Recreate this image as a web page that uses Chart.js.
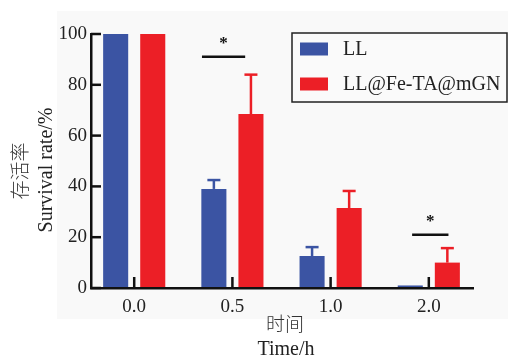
<!DOCTYPE html>
<html>
<head>
<meta charset="utf-8">
<script src="https://cdn.jsdelivr.net/npm/chart.js@4.4.1/dist/chart.umd.min.js"></script>
<style>
  body { margin: 0; background: #fff; }
</style>
</head>
<body>
<canvas id="grafico" width="508" height="357"></canvas>
<script>
// valores
const tempos = ['0.0', '0.5', '1.0', '2.0'];
const nomes = ['LL', 'LL@Fe-TA@mGN'];
const llMedia = [100, 39, 12.6, 1];
const llDesvio = [0, 3.5, 3.5, 0];
const mgnMedia = [100, 68.5, 31.5, 10];
const mgnDesvio = [0, 15.5, 6.7, 5.7];
const yTicks = [0, 20, 40, 60, 80, 100];

// marcas de significancia (indice da categoria, altura em %, extensao em unidades de x)
const sigIndice = [1, 3];
const sigAltura = [91, 21];
const sigDe = [-0.31, -0.17];
const sigAte = [0.13, 0.2];
const sigTexto = ['*', '*'];

const azul = '#3b54a3';
const vermelho = '#ec1f26';
const serif = "'Liberation Serif', 'Times New Roman', 'Noto Sans CJK SC', serif";
const cjk = "300 19px 'Noto Sans CJK SC', sans-serif";

function linha(ctx, x1, y1, x2, y2) {
    ctx.beginPath();
    ctx.moveTo(x1, y1);
    ctx.lineTo(x2, y2);
    ctx.stroke();
}

const fundo = {
    id: 'fundo',
    beforeDraw(chart) {
        const ctx = chart.ctx;
        ctx.save();
        ctx.fillStyle = '#f9f9f9';
        ctx.fillRect(57, 11, chart.width - 57, 308);
        ctx.restore();
    }
};

const barrasErro = {
    id: 'barrasErro',
    afterDatasetsDraw(chart) {
        const ctx = chart.ctx;
        const y = chart.scales.y;
        ctx.save();
        chart.data.datasets.forEach((ds, i) => {
            const meta = chart.getDatasetMeta(i);
            ctx.strokeStyle = ds.backgroundColor;
            ctx.lineWidth = 2.5;
            meta.data.forEach((bar, j) => {
                const sd = ds.desvio[j];
                if (!sd) return;
                const topo = y.getPixelForValue(ds.data[j].y + sd);
                linha(ctx, bar.x, bar.y, bar.x, topo);
                linha(ctx, bar.x - 6.5, topo, bar.x + 6.5, topo);
            });
        });
        ctx.restore();
    }
};

const significancia = {
    id: 'significancia',
    afterDatasetsDraw(chart) {
        const {ctx, scales: {x, y}} = chart;
        ctx.save();
        ctx.strokeStyle = '#111';
        ctx.fillStyle = '#111';
        ctx.lineWidth = 2.5;
        ctx.font = 'bold 17px ' + serif;
        ctx.textAlign = 'center';
        ctx.textBaseline = 'middle';
        sigIndice.forEach((idx, k) => {
            const x1 = x.getPixelForValue(idx + sigDe[k]);
            const x2 = x.getPixelForValue(idx + sigAte[k]);
            const py = y.getPixelForValue(sigAltura[k]);
            linha(ctx, x1, py, x2, py);
            ctx.fillText(sigTexto[k], (x1 + x2) / 2, py - 13);
        });
        ctx.restore();
    }
};

// ticks voltados para dentro
const marcas = {
    id: 'marcas',
    afterDatasetsDraw(chart) {
        const {ctx, chartArea, scales: {x, y}} = chart;
        ctx.save();
        ctx.strokeStyle = '#111';
        ctx.lineWidth = 2.5;
        y.ticks.forEach(t => {
            const py = y.getPixelForValue(t.value);
            linha(ctx, chartArea.left, py, chartArea.left + 10, py);
        });
        x.ticks.forEach(t => {
            const px = x.getPixelForValue(t.value);
            linha(ctx, px, chartArea.bottom, px, chartArea.bottom - 11);
        });
        ctx.restore();
    }
};

const legenda = {
    id: 'legenda',
    afterDraw(chart) {
        const ctx = chart.ctx;
        ctx.save();
        ctx.fillStyle = '#fafafa';
        ctx.fillRect(292, 33, 215, 69);
        ctx.strokeStyle = '#222';
        ctx.lineWidth = 1.5;
        ctx.strokeRect(292, 33, 215, 69);
        ctx.font = '20px ' + serif;
        ctx.textBaseline = 'middle';
        ctx.textAlign = 'left';
        chart.data.datasets.forEach((ds, i) => {
            const cy = 49 + i * 35;
            ctx.fillStyle = ds.backgroundColor;
            ctx.fillRect(300, cy - 6.5, 28, 13);
            ctx.fillStyle = '#222';
            ctx.fillText(ds.label, 343, cy + 1);
        });
        ctx.restore();
    }
};

const titulos = {
    id: 'titulos',
    afterDraw(chart) {
        const ctx = chart.ctx;
        ctx.save();
        ctx.fillStyle = '#333';
        ctx.textAlign = 'center';
        ctx.textBaseline = 'middle';
        ctx.font = cjk;
        ctx.fillText('时间', 285, 324);
        ctx.fillStyle = '#222';
        ctx.font = '20px ' + serif;
        ctx.fillText('Time/h', 286, 350);
        ctx.translate(20, 171);
        ctx.rotate(-Math.PI / 2);
        ctx.fillText('Survival rate/%', 1, 27);
        ctx.fillStyle = '#333';
        ctx.font = cjk;
        ctx.fillText('存活率', 0, 0);
        ctx.restore();
    }
};

new Chart(document.getElementById('grafico'), {
    type: 'bar',
    data: {
        datasets: [
            {
                label: nomes[0],
                data: llMedia.map((v, i) => ({x: i, y: v})),
                desvio: llDesvio,
                backgroundColor: azul,
                categoryPercentage: 0.755,
                barPercentage: 0.676
            },
            {
                label: nomes[1],
                data: mgnMedia.map((v, i) => ({x: i, y: v})),
                desvio: mgnDesvio,
                backgroundColor: vermelho,
                categoryPercentage: 0.755,
                barPercentage: 0.676
            }
        ]
    },
    options: {
        responsive: false,
        animation: false,
        layout: { padding: { top: 34, right: 35, left: 0, bottom: 0 } },
        plugins: {
            legend: { display: false },
            tooltip: { enabled: false }
        },
        scales: {
            x: {
                type: 'linear',
                min: -0.44,
                max: 3.45,
                offset: false,
                afterBuildTicks: s => { s.ticks = tempos.map((t, i) => ({value: i})); },
                afterFit: s => { s.height = 69; },
                grid: { display: false, drawTicks: false },
                border: { color: '#111', width: 2.5, z: 1 },
                ticks: {
                    padding: 8,
                    color: '#222',
                    font: { family: serif, size: 19 },
                    callback: v => tempos[v] ?? ''
                }
            },
            y: {
                min: 0,
                max: 100,
                afterBuildTicks: s => { s.ticks = yTicks.map(v => ({value: v})); },
                afterFit: s => { s.width = 91; },
                grid: { display: false, drawTicks: false },
                border: { color: '#111', width: 2.5, z: 1 },
                ticks: {
                    padding: 4,
                    color: '#222',
                    font: { family: serif, size: 19 }
                }
            }
        }
    },
    plugins: [fundo, barrasErro, significancia, marcas, legenda, titulos]
});
</script>
</body>
</html>
